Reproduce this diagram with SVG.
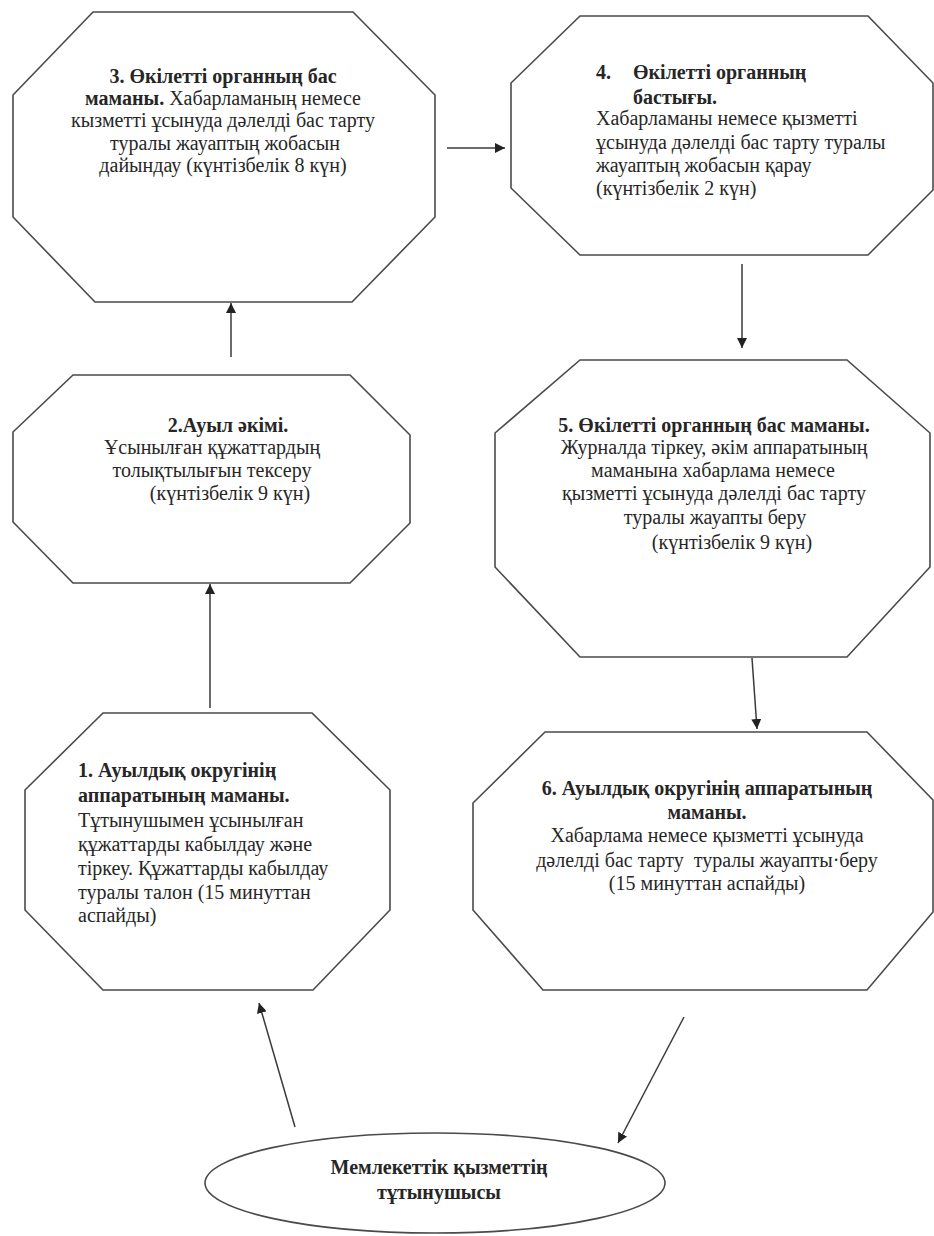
<svg xmlns="http://www.w3.org/2000/svg" width="934" height="1236" viewBox="0 0 934 1236">
<style>
.shape{fill:#fff;stroke:#4a4a4a;stroke-width:1.6}
.t{font-family:"Liberation Serif","Times New Roman",serif;font-size:20px;fill:#262626}
.b{font-weight:bold}
.c{text-anchor:middle}
.conn line{stroke:#3a3a3a;stroke-width:1.5;marker-end:url(#ah)}
</style>
<defs>
<marker id="ah" viewBox="0 0 10 10" refX="10" refY="5" markerWidth="10" markerHeight="10" markerUnits="userSpaceOnUse" orient="auto">
<path d="M0,0 L10,5 L0,10 z" fill="#222"/>
</marker>
</defs>
<rect width="934" height="1236" fill="#fff"/>

<g id="node3">
<polygon class="shape" points="93,12 353,12 435,95 435,217 352,302 95,302 13,217 13,95"/>
<text class="t c" x="223" y="83"><tspan class="b">3. Өкілетті органның бас</tspan></text>
<text class="t c" x="223" y="105"><tspan class="b">маманы.</tspan>  Хабарламаның немесе</text>
<text class="t c" x="223" y="127">кызметті ұсынуда дәлелді бас тарту</text>
<text class="t c" x="225" y="150">туралы жауаптың жобасын</text>
<text class="t c" x="223" y="172">дайындау (күнтізбелік 8 күн)</text>
</g>

<g id="node4">
<polygon class="shape" points="580,16 868,16 933,83 933,190 868,255 580,255 511,188 511,83"/>
<text class="t b" x="596" y="79">4.</text>
<text class="t b" x="633" y="79">Өкілетті органның</text>
<text class="t b" x="633" y="104">бастығы.</text>
<text class="t" x="596" y="125">Хабарламаны немесе қызметті</text>
<text class="t" x="596" y="149">ұсынуда дәлелді бас тарту туралы</text>
<text class="t" x="596" y="172">жауаптың жобасын қарау</text>
<text class="t" x="596" y="195">(күнтізбелік 2 күн)</text>
</g>

<g id="node2">
<polygon class="shape" points="73,375 350,375 410,435 410,523 350,583 73,583 13,522 13,432"/>
<text class="t b c" x="228" y="432">2.Ауыл әкімі.</text>
<text class="t c" x="212" y="454">Ұсынылған құжаттардың</text>
<text class="t c" x="212" y="477">толықтылығын тексеру</text>
<text class="t c" x="230" y="500">(күнтізбелік 9 күн)</text>
</g>

<g id="node5">
<polygon class="shape" points="580,360 847,360 930,433 930,567 847,657 580,657 495,567 495,433"/>
<text class="t b c" x="714" y="432">5. Өкілетті органның бас маманы.</text>
<text class="t c" x="714" y="454">Журналда тіркеу, әкім аппаратының</text>
<text class="t c" x="713" y="477">маманына хабарлама немесе</text>
<text class="t c" x="714" y="500">қызметті ұсынуда дәлелді бас тарту</text>
<text class="t c" x="715" y="524">туралы жауапты беру</text>
<text class="t c" x="732" y="549">(күнтізбелік 9 күн)</text>
</g>

<g id="node1">
<polygon class="shape" points="103,713 312,713 390,790 390,910 313,990 103,990 25,910 25,790"/>
<text class="t b" x="78" y="777">1. Ауылдық округінің</text>
<text class="t b" x="78" y="802">аппаратының маманы.</text>
<text class="t" x="78" y="827">Тұтынушымен ұсынылған</text>
<text class="t" x="78" y="851">құжаттарды кабылдау және</text>
<text class="t" x="78" y="875">тіркеу. Құжаттарды кабылдау</text>
<text class="t" x="78" y="899">туралы талон (15 минуттан</text>
<text class="t" x="78" y="922">аспайды)</text>
</g>

<g id="node6">
<polygon class="shape" points="545,732 867,732 933,800 933,912 867,990 543,990 473,910 473,803"/>
<text class="t b c" x="707" y="795">6. Ауылдық округінің аппаратының</text>
<text class="t b c" x="707" y="819">маманы.</text>
<text class="t c" x="707" y="842">Хабарлама немесе қызметті ұсынуда</text>
<text class="t c" x="707" y="867" xml:space="preserve">дәлелді бас тарту  туралы жауапты·беру</text>
<text class="t c" x="707" y="890">(15 минуттан аспайды)</text>
</g>

<g id="consumer">
<ellipse class="shape" cx="435" cy="1183" rx="230" ry="50"/>
<text class="t b c" x="439" y="1174">Мемлекеттік қызметтің</text>
<text class="t b c" x="439" y="1199">тұтынушысы</text>
</g>

<g id="connectors" class="conn">
<line x1="295" y1="1127" x2="259" y2="1003"/>
<line x1="210" y1="708" x2="210" y2="584"/>
<line x1="231" y1="357" x2="231" y2="303"/>
<line x1="447" y1="148" x2="505" y2="148"/>
<line x1="742" y1="264" x2="742" y2="348"/>
<line x1="752" y1="658" x2="757" y2="729"/>
<line x1="684" y1="1017" x2="618" y2="1143"/>
</g>
</svg>
